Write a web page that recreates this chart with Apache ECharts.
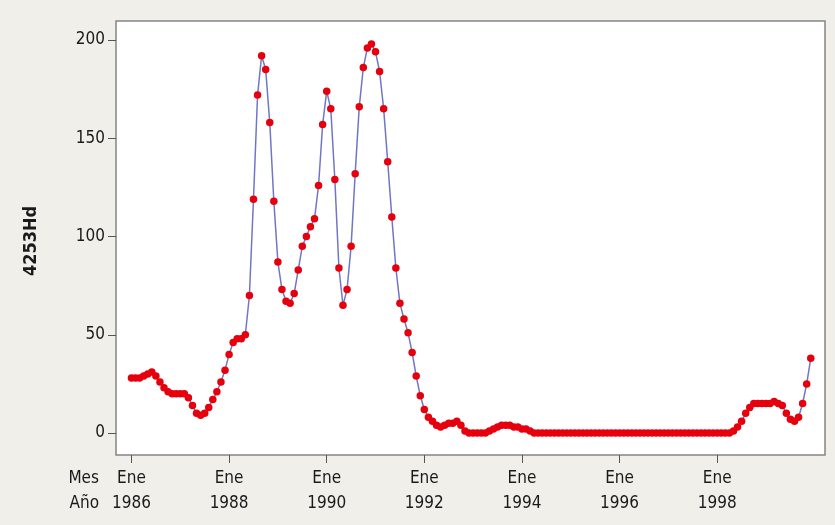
<!DOCTYPE html>
<html>
<head>
<meta charset="utf-8">
<script src="https://cdn.jsdelivr.net/npm/echarts@6/dist/echarts.min.js"></script>
<style>
  html, body { margin: 0; padding: 0; background: #f1efea; }
  #chart { width: 835px; height: 525px; }
</style>
</head>
<body>
<div id="chart"></div>
<script>
// Monthly series, January 1986 to December 1999
const startYear = 1986;
const values = [
  28, 28, 28, 29, 30, 31, 29, 26, 23, 21, 20, 20,          // 1986
  20, 20, 18, 14, 10, 9, 10, 13, 17, 21, 26, 32,           // 1987
  40, 46, 48, 48, 50, 70, 119, 172, 192, 185, 158, 118,    // 1988
  87, 73, 67, 66, 71, 83, 95, 100, 105, 109, 126, 157,     // 1989
  174, 165, 129, 84, 65, 73, 95, 132, 166, 186, 196, 198,  // 1990
  194, 184, 165, 138, 110, 84, 66, 58, 51, 41, 29, 19,     // 1991
  12, 8, 6, 4, 3, 4, 5, 5, 6, 4, 1, 0,                     // 1992
  0, 0, 0, 0, 1, 2, 3, 4, 4, 4, 3, 3,                      // 1993
  2, 2, 1, 0, 0, 0, 0, 0, 0, 0, 0, 0,                      // 1994
  0, 0, 0, 0, 0, 0, 0, 0, 0, 0, 0, 0,                      // 1995
  0, 0, 0, 0, 0, 0, 0, 0, 0, 0, 0, 0,                      // 1996
  0, 0, 0, 0, 0, 0, 0, 0, 0, 0, 0, 0,                      // 1997
  0, 0, 0, 0, 1, 3, 6, 10, 13, 15, 15, 15,                 // 1998
  15, 15, 16, 15, 14, 10, 7, 6, 8, 15, 25, 38              // 1999
];

// Time axis ticks (month index since Jan 1986)
const xTickMonths = [0, 24, 48, 72, 96, 120, 144];
const xTickMonthNames = ['Ene', 'Ene', 'Ene', 'Ene', 'Ene', 'Ene', 'Ene'];
const xTickYears = ['1986', '1988', '1990', '1992', '1994', '1996', '1998'];
const xRowLabels = ['Mes', 'Año'];

const yTicks = [0, 50, 100, 150, 200];
const yTitle = '4253Hd';

const FONT = "'DejaVu Sans Condensed', 'Liberation Sans Narrow', 'DejaVu Sans', sans-serif";

const seriesData = values.map((v, i) => [i, v]);

const chart = echarts.init(document.getElementById('chart'), null, { renderer: 'canvas' });

chart.setOption({
  animation: false,
  backgroundColor: '#f1efea',
  grid: {
    left: 116, right: 10, top: 21, bottom: 70,
    show: true,
    backgroundColor: '#ffffff',
    borderColor: '#858585',
    borderWidth: 1.5,
    containLabel: false,
    outerBoundsMode: 'none'
  },
  xAxis: {
    type: 'value',
    min: -3.8,
    max: 170.5,
    axisLine: { show: false, onZero: false },
    splitLine: { show: false },
    axisTick: {
      show: true, inside: false, length: 8,
      customValues: xTickMonths,
      lineStyle: { color: '#555', width: 1 }
    },
    axisLabel: {
      customValues: xTickMonths,
      margin: 11,
      lineHeight: 25,
      fontSize: 17,
      fontFamily: FONT,
      color: '#1a1a1a',
      formatter: (v) => {
        const k = xTickMonths.indexOf(Math.round(v));
        return k < 0 ? '' : xTickMonthNames[k] + '\n' + xTickYears[k];
      }
    }
  },
  yAxis: {
    type: 'value',
    min: -11.2,
    max: 209.7,
    axisLine: { show: false, onZero: false },
    splitLine: { show: false },
    axisTick: {
      show: true, inside: false, length: 8,
      customValues: yTicks,
      lineStyle: { color: '#555', width: 1 }
    },
    axisLabel: {
      customValues: yTicks,
      margin: 11,
      fontSize: 17,
      fontFamily: FONT,
      color: '#1a1a1a'
    }
  },
  graphic: [
    {
      type: 'text', x: 99, y: 479,
      style: { text: xRowLabels[0], font: '17px ' + FONT, fill: '#1a1a1a', align: 'right', verticalAlign: 'middle' }
    },
    {
      type: 'text', x: 99, y: 504,
      style: { text: xRowLabels[1], font: '17px ' + FONT, fill: '#1a1a1a', align: 'right', verticalAlign: 'middle' }
    },
    {
      type: 'text', x: 31, y: 241, rotation: Math.PI / 2,
      style: { text: yTitle, font: 'bold 18px ' + FONT, fill: '#1a1a1a', align: 'center', verticalAlign: 'middle' }
    }
  ],
  series: [{
    type: 'line',
    data: seriesData,
    symbol: 'circle',
    symbolSize: 7.5,
    showAllSymbol: true,
    itemStyle: { color: '#e6000e' },
    lineStyle: { color: '#7076c6', width: 1.5 },
    emphasis: { disabled: true }
  }]
});
</script>
</body>
</html>
